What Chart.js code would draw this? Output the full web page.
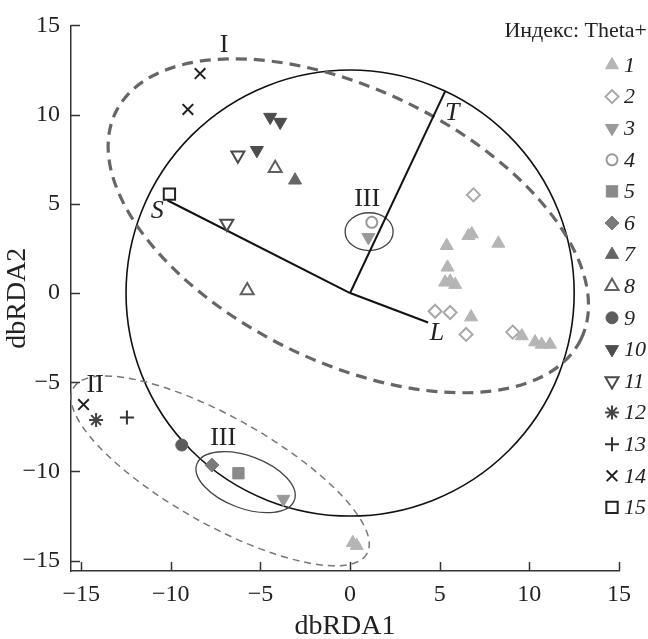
<!DOCTYPE html>
<html>
<head>
<meta charset="utf-8">
<script src="https://cdn.jsdelivr.net/npm/chart.js@4.4.1/dist/chart.umd.min.js"></script>
<style>
html, body { margin: 0; padding: 0; background: #fff; }
#wrap { width: 648px; height: 639px; position: relative; }
</style>
</head>
<body>
<div id="wrap"><canvas id="rdaChart"></canvas></div>
<script>
// точки по группам индекса Theta+ (dbRDA1, dbRDA2)
var grp1 = [[6.6, 3.21], [6.79, 3.31], [5.39, 2.65], [8.27, 2.78], [5.43, 1.44], [5.3, 0.6], [5.58, 0.66],
            [5.86, 0.47], [6.75, -1.35], [9.58, -2.41], [10.32, -2.75], [10.69, -2.88], [11.15, -2.88],
            [0.15, -14.0], [0.37, -14.16]];
var grp2 = [[6.88, 5.5], [4.74, -1.02], [5.58, -1.09], [6.47, -2.32], [9.07, -2.19]];
var grp3 = [[1.02, 3.12], [-3.72, -11.55]];
var grp4 = [[1.21, 3.96]];
var grp5 = [[-6.23, -10.1]];
var grp6 = [[-7.71, -9.64]];
var grp7 = [[-3.07, 6.32]];
var grp8 = [[-4.18, 6.99], [-5.74, 0.14]];
var grp9 = [[-9.39, -8.52]];
var grp10 = [[-4.46, 9.86], [-3.9, 9.58], [-5.2, 8.0]];
var grp11 = [[-6.26, 7.72], [-6.88, 3.9]];
var grp12 = [[-14.17, -7.12]];
var grp13 = [[-12.45, -6.97]];
var grp14 = [[-14.87, -6.25], [-8.37, 12.3], [-9.05, 10.29]];
var grp15 = [[-10.08, 5.54]];
var groups = [grp1, grp2, grp3, grp4, grp5, grp6, grp7, grp8, grp9, grp10, grp11, grp12, grp13, grp14, grp15];
var groupLabels = ['1', '2', '3', '4', '5', '6', '7', '8', '9', '10', '11', '12', '13', '14', '15'];

// векторы факторов
var vectorNames = ['S', 'T', 'L'];
var vectorX = [-10.2, 5.3, 4.35];
var vectorY = [5.2, 11.3, -1.65];

var xTicks = [-15, -10, -5, 0, 5, 10, 15];
var yTicks = [-15, -10, -5, 0, 5, 10, 15];

// оформление маркеров
var markers = [
  { s: 'triangle', r: 7.5, rot: 0, fill: '#b5b5b5', line: '#b5b5b5', w: 1 },
  { s: 'rectRot', r: 6.5, rot: 0, fill: 'transparent', line: '#a8a8a8', w: 2 },
  { s: 'triangle', r: 7.5, rot: 180, fill: '#999999', line: '#999999', w: 1 },
  { s: 'circle', r: 5.5, rot: 0, fill: 'transparent', line: '#999999', w: 2 },
  { s: 'rect', r: 8, rot: 0, fill: '#8a8a8a', line: '#8a8a8a', w: 1 },
  { s: 'rectRot', r: 7, rot: 0, fill: '#7a7a7a', line: '#7a7a7a', w: 1 },
  { s: 'triangle', r: 7.5, rot: 0, fill: '#666666', line: '#666666', w: 1 },
  { s: 'triangle', r: 7.5, rot: 0, fill: 'transparent', line: '#606060', w: 2 },
  { s: 'circle', r: 6, rot: 0, fill: '#5c5c5c', line: '#5c5c5c', w: 1 },
  { s: 'triangle', r: 7.5, rot: 180, fill: '#4d4d4d', line: '#4d4d4d', w: 1 },
  { s: 'triangle', r: 7.5, rot: 180, fill: 'transparent', line: '#4a4a4a', w: 2 },
  { s: 'star', r: 7, rot: 0, fill: '#444444', line: '#444444', w: 2 },
  { s: 'cross', r: 7, rot: 0, fill: '#333333', line: '#333333', w: 2 },
  { s: 'crossRot', r: 7.5, rot: 0, fill: '#222222', line: '#222222', w: 2 },
  { s: 'rect', r: 8, rot: 0, fill: 'transparent', line: '#222222', w: 2 }
];

// эллипсы групп и окружность
var ellipses = [
  { cx: 0, cy: 0, rx: 12.5, ry: 12.5, rot: 0, color: '#111', w: 1.6, dash: [] },
  { cx: -0.1, cy: 3.77, rx: 14.44, ry: 7.64, rot: 26, color: '#666', w: 3.2, dash: [11, 7] },
  { cx: -7.25, cy: -9.97, rx: 9.4, ry: 3.0, rot: 29.4, color: '#777', w: 1.5, dash: [7, 5] },
  { cx: -5.83, cy: -10.6, rx: 2.9, ry: 1.47, rot: 20.3, color: '#444', w: 1.3, dash: [] },
  { cx: 1.06, cy: 3.44, rx: 1.34, ry: 1.06, rot: 0, color: '#444', w: 1.3, dash: [] }
];
var tags = [
  { t: 'I', x: -7.03, y: 13.88, it: false },
  { t: 'II', x: -14.22, y: -5.17, it: false },
  { t: 'III', x: 0.95, y: 5.28, it: false },
  { t: 'III', x: -7.08, y: -8.13, it: false },
  { t: 'S', x: -10.76, y: 4.61, it: true },
  { t: 'T', x: 5.69, y: 10.08, it: true },
  { t: 'L', x: 4.85, y: -2.26, it: true }
];

var serif = "'Liberation Serif', 'Times New Roman', serif";

function fmt(v) {
  return v < 0 ? '\u2212' + Math.abs(v) : String(v);
}

var datasets = [];
for (var i = 0; i < vectorNames.length; i++) {
  datasets.push({
    label: vectorNames[i],
    data: [{ x: 0, y: 0 }, { x: vectorX[i], y: vectorY[i] }],
    showLine: true,
    borderColor: '#111',
    borderWidth: 2,
    pointRadius: 0,
    order: 20
  });
}
groups.forEach(function (g, k) {
  var m = markers[k];
  datasets.push({
    label: groupLabels[k],
    data: g.map(function (p) { return { x: p[0], y: p[1] }; }),
    pointStyle: m.s,
    pointRadius: m.r,
    pointRotation: m.rot,
    backgroundColor: m.fill,
    borderColor: m.line,
    borderWidth: m.w,
    order: 1
  });
});

var extras = {
  id: 'extras',
  beforeDatasetsDraw: function (chart) {
    var ctx = chart.ctx, xs = chart.scales.x, ys = chart.scales.y;
    var kx = Math.abs(xs.getPixelForValue(1) - xs.getPixelForValue(0));
    var ky = Math.abs(ys.getPixelForValue(1) - ys.getPixelForValue(0));
    ellipses.forEach(function (e) {
      ctx.save();
      ctx.beginPath();
      ctx.ellipse(xs.getPixelForValue(e.cx), ys.getPixelForValue(e.cy), e.rx * kx, e.ry * ky,
        e.rot * Math.PI / 180, 0, 2 * Math.PI);
      ctx.strokeStyle = e.color;
      ctx.lineWidth = e.w;
      ctx.setLineDash(e.dash);
      ctx.stroke();
      ctx.restore();
    });
  },
  afterDraw: function (chart) {
    var ctx = chart.ctx, xs = chart.scales.x, ys = chart.scales.y, a = chart.chartArea;
    ctx.save();
    // засечки внутрь
    ctx.strokeStyle = '#333';
    ctx.lineWidth = 1.5;
    xTicks.forEach(function (v) {
      var px = Math.round(xs.getPixelForValue(v)) + 0.5;
      ctx.beginPath(); ctx.moveTo(px, a.bottom); ctx.lineTo(px, a.bottom - 9); ctx.stroke();
    });
    yTicks.forEach(function (v) {
      var py = Math.round(ys.getPixelForValue(v)) + 0.5;
      ctx.beginPath(); ctx.moveTo(a.left, py); ctx.lineTo(a.left + 9, py); ctx.stroke();
    });
    // подписи на поле
    ctx.fillStyle = '#222';
    ctx.textAlign = 'center';
    ctx.textBaseline = 'middle';
    tags.forEach(function (t) {
      ctx.font = (t.it ? 'italic ' : '') + '26px ' + serif;
      ctx.fillText(t.t, xs.getPixelForValue(t.x), ys.getPixelForValue(t.y));
    });
    // легенда
    ctx.textAlign = 'right';
    ctx.textBaseline = 'alphabetic';
    ctx.font = '22px ' + serif;
    ctx.fillText('Индекс: Theta+', 647, 37);
    ctx.textAlign = 'left';
    ctx.textBaseline = 'middle';
    ctx.font = 'italic 22px ' + serif;
    groupLabels.forEach(function (lab, k) {
      var m = markers[k];
      var y = 65 + k * 31.6;
      ctx.fillStyle = m.fill;
      ctx.strokeStyle = m.line;
      ctx.lineWidth = m.w;
      Chart.helpers.drawPoint(ctx, { pointStyle: m.s, radius: m.r, rotation: m.rot, borderWidth: m.w }, 612, y);
      ctx.fillStyle = '#222';
      ctx.fillText(lab, 624, y + 1);
    });
    ctx.restore();
  }
};

new Chart(document.getElementById('rdaChart'), {
  type: 'scatter',
  data: { datasets: datasets },
  plugins: [extras],
  options: {
    responsive: true,
    maintainAspectRatio: false,
    animation: false,
    layout: { padding: { left: 0, right: 29, top: 24, bottom: 0 } },
    plugins: {
      legend: { display: false },
      tooltip: { enabled: false }
    },
    scales: {
      x: {
        type: 'linear',
        position: 'bottom',
        min: -15.57,
        max: 15,
        afterBuildTicks: function (s) { s.ticks = xTicks.map(function (v) { return { value: v }; }); },
        afterFit: function (s) { s.height = 68; },
        grid: { display: true, drawOnChartArea: false, drawTicks: false },
        border: { display: true, color: '#333', width: 1.5 },
        ticks: { color: '#222', padding: 9, maxRotation: 0, font: { family: serif, size: 24 }, callback: fmt },
        title: { display: true, text: 'dbRDA1', color: '#222', font: { family: serif, size: 28 }, padding: { top: -4, bottom: -4 } }
      },
      y: {
        type: 'linear',
        min: -15.58,
        max: 15,
        afterBuildTicks: function (s) { s.ticks = yTicks.map(function (v) { return { value: v }; }); },
        afterFit: function (s) { s.width = 71; },
        grid: { display: true, drawOnChartArea: false, drawTicks: false },
        border: { display: true, color: '#333', width: 1.5 },
        ticks: { color: '#222', padding: 11, font: { family: serif, size: 24 }, callback: fmt },
        title: { display: true, text: 'dbRDA2', color: '#222', font: { family: serif, size: 28 }, padding: { top: 1, bottom: 1 } }
      }
    }
  }
});
</script>
</body>
</html>
